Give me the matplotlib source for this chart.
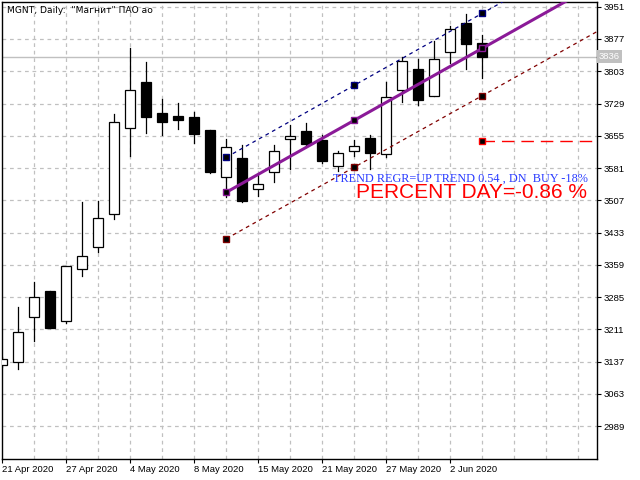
import matplotlib
matplotlib.use("Agg")
import matplotlib.pyplot as plt
from matplotlib.patches import Rectangle

# daily candles, 21 Apr 2020 .. 4 Jun 2020
opens = [3128.9, 3137.1, 3238.9, 3299.2, 3229.7, 3349.0, 3399.4, 3475.1,
         3673.6, 3778.4, 3707.3, 3700.4, 3698.1, 3668.3, 3559.9, 3604.1,
         3533.0, 3571.3, 3648.4, 3665.3, 3644.7, 3585.1, 3619.5, 3649.3,
         3614.0, 3760.7, 3807.5, 3747.0, 3847.9, 3913.0, 3867.1]
highs = [3147.8, 3262.5, 3319.8, 3300.0, 3357.0, 3503.2, 3506.2, 3704.3,
         3856.3, 3824.2, 3739.4, 3730.2, 3709.6, 3669.0, 3647.7, 3633.2,
         3565.1, 3633.9, 3679.8, 3683.7, 3657.5, 3620.2, 3645.4, 3656.2,
         3779.1, 3835.0, 3831.1, 3873.1, 3906.1, 3934.3, 3886.8]
lows = [3125.0, 3119.7, 3185.2, 3214.0, 3226.5, 3334.3, 3389.3, 3464.3,
        3609.4, 3662.1, 3656.9, 3670.6, 3639.2, 3570.4, 3515.4, 3503.9,
        3517.0, 3549.8, 3579.6, 3630.0, 3592.0, 3574.3, 3608.7, 3579.6,
        3607.1, 3733.2, 3725.7, 3746.0, 3821.3, 3808.2, 3788.3]
closes = [3142.6, 3204.5, 3284.8, 3215.1, 3355.8, 3378.8, 3465.9, 3687.4,
          3759.3, 3698.8, 3687.4, 3691.9, 3659.8, 3572.0, 3628.7, 3506.2,
          3543.8, 3619.5, 3655.2, 3636.9, 3597.2, 3615.6, 3632.3, 3614.9,
          3743.3, 3825.9, 3737.8, 3830.4, 3899.2, 3866.2, 3836.0]

date_ticks = [0, 4, 8, 12, 16, 20, 24, 28]
date_labels = ["21 Apr 2020", "27 Apr 2020", "4 May 2020", "8 May 2020",
               "15 May 2020", "21 May 2020", "27 May 2020", "2 Jun 2020"]
price_ticks = [2989, 3063, 3137, 3211, 3285, 3359, 3433, 3507, 3581,
               3655, 3729, 3803, 3877, 3951]

# regression channel anchor points
reg_idx = [14, 22, 30]
reg_mid = [3525.5, 3690.5, 3855.6]
reg_up = [3605.7, 3771.5, 3935.9]
reg_dn = [3419.1, 3583.5, 3747.0]

level_idx = 30
level_price = 3642.4
last_price = 3836

title = 'MGNT, Daily:  "Магнит" ПАО ао'
trend_text = "TREND REGR=UP TREND 0.54 , DN  BUY -18%"
percent_text = "PERCENT DAY=-0.86 %"

fig = plt.figure(figsize=(6.4, 4.8), dpi=100)
ax = fig.add_axes([2 / 640, 1 - 459 / 480, 595 / 640, 457 / 480])
ax.set_xlim(-0.02, 37.17)
ax.set_ylim(2913.9, 3961.8)

# grid
for p in price_ticks:
    ax.axhline(p, color="#c0c0c0", lw=0.9, ls=(0, (3, 3)), zorder=0)
for i in range(2, 38, 2):
    ax.axvline(i, color="#c0c0c0", lw=0.9, ls=(0, (3, 3)), zorder=0)

# current price line
ax.axhline(last_price, color="#c0c0c0", lw=1.0, zorder=1)

# candles
w = 0.62
for i, (o, h, l, c) in enumerate(zip(opens, highs, lows, closes)):
    ax.plot([i, i], [l, h], color="black", lw=0.9, zorder=2)
    face = "white" if c >= o else "black"
    ax.add_patch(Rectangle((i - w / 2, min(o, c)), w, abs(c - o),
                           facecolor=face, edgecolor="black", lw=0.9, zorder=3))


def ray(vals, color, lw, ls, mfc):
    slope = (vals[-1] - vals[0]) / (reg_idx[-1] - reg_idx[0])
    x_end = 40
    ax.plot([reg_idx[0], x_end], [vals[0], vals[0] + slope * (x_end - reg_idx[0])],
            color=color, lw=lw, ls=ls, zorder=4)
    ax.plot(reg_idx, vals, ls="none", marker="s", ms=5, mfc=mfc, mec=color,
            mew=1.0, zorder=5)


ray(reg_up, "#000080", 0.9, (0, (3, 3)), "black")
ray(reg_dn, "#800000", 0.9, (0, (3, 3)), "black")
ray(reg_mid, "#8b1a98", 2.2, "-", "black")

# red level
ax.plot([level_idx, 40], [level_price, level_price], color="red", lw=1.0,
        ls=(0, (9, 5)), zorder=4)
ax.plot([level_idx], [level_price], ls="none", marker="s", ms=5, mfc="black",
        mec="red", mew=1.0, zorder=5)

# texts
ax.text(5 / 595, 1 - 8 / 457, title, transform=ax.transAxes, fontsize=6.6,
        va="center", ha="left", family="DejaVu Sans")
ax.text(20.67, 3549, trend_text, fontsize=8.8, color="#2a3cff",
        family="Liberation Serif", va="baseline", ha="left", zorder=6)
ax.text(22.1, 3512.5, percent_text, fontsize=15, color="red",
        family="Liberation Sans", va="baseline", ha="left", zorder=6)

# axes
ax.yaxis.tick_right()
ax.set_yticks(price_ticks)
ax.set_yticklabels([str(p) for p in price_ticks])
ax.set_xticks(date_ticks)
ax.set_xticklabels(date_labels)
ax.tick_params(axis="both", labelsize=6.8, length=3, width=0.8, pad=1.5,
               direction="out")
for lab in ax.get_xticklabels() + ax.get_yticklabels():
    lab.set_family("Liberation Sans")
for lab in ax.get_xticklabels():
    lab.set_horizontalalignment("left")
for sp in ax.spines.values():
    sp.set_linewidth(1.0)

ax.text(1.003, last_price, str(last_price), transform=ax.get_yaxis_transform(),
        fontsize=6.8, family="Liberation Sans", color="white", va="center",
        ha="left", bbox=dict(boxstyle="square,pad=0.2", fc="#c0c0c0", ec="none"))

fig.savefig("out.png", dpi=100)
